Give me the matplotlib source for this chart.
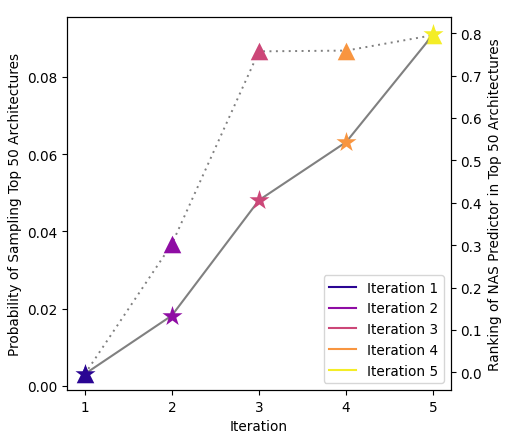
import numpy as np
import matplotlib.pyplot as plt
from matplotlib.lines import Line2D

# ---------------------------------------
# Data
# ---------------------------------------

iterations = [1, 2, 3, 4, 5]
labels = ["Iteration 1", "Iteration 2", "Iteration 3", "Iteration 4", "Iteration 5"]

sampling_prob = [0.003, 0.0367, 0.0866, 0.0868, 0.0908]
predictor_rank = [-0.004, 0.134, 0.406, 0.543, 0.797]

colors = plt.cm.plasma(np.array([0.05, 0.3, 0.5, 0.75, 0.97]))

# ---------------------------------------
# Plot
# ---------------------------------------

plt.rcParams["font.size"] = 9.8

fig, ax1 = plt.subplots(figsize=(5.21, 4.39), dpi=100)
fig.subplots_adjust(left=0.1292, right=0.865, top=0.959, bottom=0.1093)

ax2 = ax1.twinx()

ax1.plot(iterations, sampling_prob, color="gray", linestyle=(0, (1, 2.3)), linewidth=1.4, zorder=1)
ax2.plot(iterations, predictor_rank, color="gray", linestyle="-", linewidth=1.5, zorder=1)

for i in range(len(iterations)):
    ax1.scatter(iterations[i], sampling_prob[i], marker="^", s=160, color=colors[i], linewidths=0, zorder=2)
    ax2.scatter(iterations[i], predictor_rank[i], marker="*", s=230, color=colors[i], linewidths=0, zorder=2)

ax1.set_xlabel("Iteration")
ax1.set_ylabel("Probability of Sampling Top 50 Architectures")
ax2.set_ylabel("Ranking of NAS Predictor in Top 50 Architectures")

ax1.set_xticks(iterations)
ax1.set_ylim(-0.0011, 0.0955)
ax2.set_ylim(-0.0417, 0.838)

handles = [Line2D([0], [0], color=colors[i], label=labels[i]) for i in range(len(labels))]
ax2.legend(handles=handles, loc="lower right")

fig.savefig("out.png", dpi=100)
